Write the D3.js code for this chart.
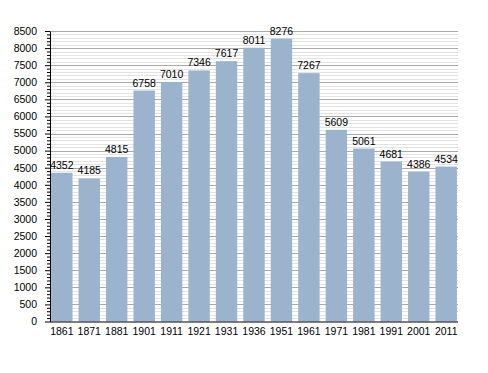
<!DOCTYPE html>
<html><head><meta charset="utf-8">
<script src="https://cdn.jsdelivr.net/npm/d3@7"></script>
<style>
html,body{margin:0;padding:0;background:#fff;}
text{font-family:"Liberation Sans",Arial,sans-serif;font-size:10.5px;fill:#000;}
</style></head>
<body>
<svg id="chart" width="488" height="373"></svg>
<script>
const years = ["1861","1871","1881","1901","1911","1921","1931","1936","1951","1961","1971","1981","1991","2001","2011"];
const population = [4352,4185,4815,6758,7010,7346,7617,8011,8276,7267,5609,5061,4681,4386,4534];
const yMajorTicks = [0,500,1000,1500,2000,2500,3000,3500,4000,4500,5000,5500,6000,6500,7000,7500,8000,8500];
const yMinorStep = 100;

const svg = d3.select("#chart");
const mLeft = 50, mRight = 458, mTop = 31, mBottom = 321.5;

const x = d3.scaleBand().domain(years).range([mLeft, mRight]).paddingInner(0.22).paddingOuter(0.04);
const y = d3.scaleLinear().domain([0, 8500]).range([mBottom, mTop]);

const minorTicks = d3.range(0, 8500 + 1, yMinorStep).filter(v => v % 500 !== 0);

// minor grid
svg.append("g").selectAll("line").data(minorTicks).join("line")
  .attr("x1", mLeft).attr("x2", mRight)
  .attr("y1", d => Math.round(y(d)) + 0.5).attr("y2", d => Math.round(y(d)) + 0.5)
  .attr("stroke", "#e3e3e3").attr("stroke-width", 1);
// major grid
svg.append("g").selectAll("line").data(yMajorTicks.filter(v => v > 0)).join("line")
  .attr("x1", mLeft).attr("x2", mRight)
  .attr("y1", d => Math.round(y(d)) + 0.5).attr("y2", d => Math.round(y(d)) + 0.5)
  .attr("stroke", "#a9a9a9").attr("stroke-width", 1);

// bars
svg.append("g").selectAll("rect").data(population).join("rect")
  .attr("x", (d, i) => x(years[i]))
  .attr("width", x.bandwidth())
  .attr("y", d => y(d))
  .attr("height", d => y(0) - y(d))
  .attr("fill", "#9cb3cd");

// value labels
svg.append("g").selectAll("text").data(population).join("text")
  .attr("x", (d, i) => x(years[i]) + x.bandwidth() / 2)
  .attr("y", d => y(d) - 4)
  .attr("text-anchor", "middle")
  .text(d => d);

// y axis minor ticks
svg.append("g").attr("transform", `translate(${mLeft},0)`)
  .call(d3.axisLeft(y).tickValues(minorTicks).tickSize(3).tickFormat(""))
  .call(g => g.select(".domain").remove())
  .call(g => g.selectAll("line").attr("stroke", "#000"));

// y axis major
svg.append("g").attr("transform", `translate(${mLeft},0)`)
  .call(d3.axisLeft(y).tickValues(yMajorTicks).tickSize(5).tickSizeOuter(0).tickPadding(8).tickFormat(d3.format("d")))
  .call(g => g.select(".domain").attr("stroke", "#000"))
  .call(g => g.selectAll("line").attr("stroke", "#000"))
  .call(g => g.selectAll("text").attr("font-size", null).attr("font-family", null).attr("fill", "#000"));

// x axis
svg.append("g").attr("transform", `translate(0,${mBottom})`)
  .call(d3.axisBottom(x).tickSize(0).tickSizeOuter(0).tickPadding(6))
  .call(g => g.select(".domain").attr("stroke", "#000").attr("d", `M${mLeft},0.5H${mRight}`))
  .call(g => g.selectAll("text").attr("font-size", null).attr("font-family", null).attr("fill", "#000"));
</script>
</body></html>
